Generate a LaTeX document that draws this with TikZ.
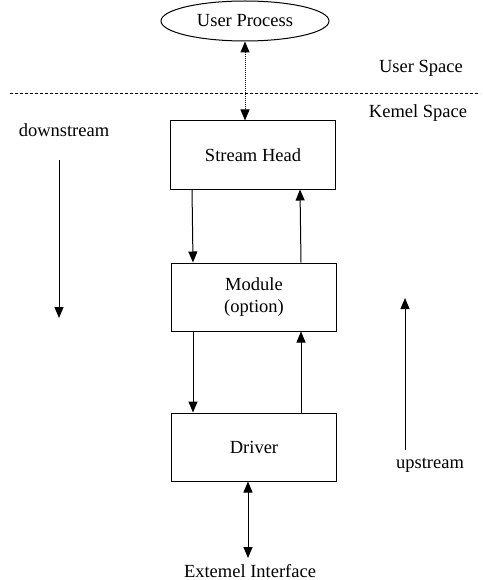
\documentclass[tikz,border=0pt]{standalone}
\usepackage{fontspec}
\setmainfont{Liberation Serif}
\usetikzlibrary{shapes.geometric,arrows.meta}
\begin{document}
\begin{tikzpicture}[x=1pt,y=-1pt,
  lbl/.style={font=\fontsize{18.5}{21}\selectfont, inner sep=0pt},
  blk/.style={draw, line width=1pt, minimum width=165pt, minimum height=68pt, font=\fontsize{18.5}{22}\selectfont, align=center},
  arr/.style={line width=1pt, -{Triangle[length=11pt,width=9pt]}},
  darr/.style={line width=1pt, {Triangle[length=11pt,width=9pt]}-{Triangle[length=11pt,width=9pt]}}]
\useasboundingbox (0,0) rectangle (482,580);
\node[draw, ellipse, line width=1pt, minimum width=168pt, minimum height=40pt, font=\fontsize{18.5}{21}\selectfont] (up) at (245,21) {User Process};
\node[lbl] (us) at (421,68) {User Space};
\coordinate (dl) at (10,93);
\coordinate (dr) at (480,93);
\draw[line width=0.8pt, dash pattern=on 3pt off 2pt] (dl) -- (dr);
\node[lbl] (ks) at (418,113) {Kemel Space};
\node[blk] (sh) at (253,155) {Stream Head};
\node[blk] (mod) at (254,297) {Module\\(option)};
\node[blk] (drv) at (254,447) {Driver};
\draw[darr, densely dotted] (up.south) -- (sh.north -| up.south);
\draw[arr] ([xshift=-61pt]sh.south) -- ([xshift=-61pt]mod.north);
\draw[arr] ([xshift=47pt]mod.north) -- ([xshift=47pt]sh.south);
\draw[arr] ([xshift=-61pt]mod.south) -- ([xshift=-61pt]drv.north);
\draw[arr] ([xshift=47pt]drv.north) -- ([xshift=47pt]mod.south);
\node[lbl] (ei) at (250,571) {Extemel Interface};
\coordinate (eitop) at (248,558);
\draw[darr] (drv.south -| eitop) -- (eitop);
\node[lbl] (ds) at (64,130) {downstream};
\coordinate (dsstart) at (59,160);
\coordinate (dsend) at (59,318);
\draw[arr] (dsstart) -- (dsend);
\node[lbl] (ups) at (430,465) {upstream};
\coordinate (upend) at (405,298);
\coordinate (upstart) at (405,450);
\draw[arr] (upstart) -- (upend);
\end{tikzpicture}
\end{document}
